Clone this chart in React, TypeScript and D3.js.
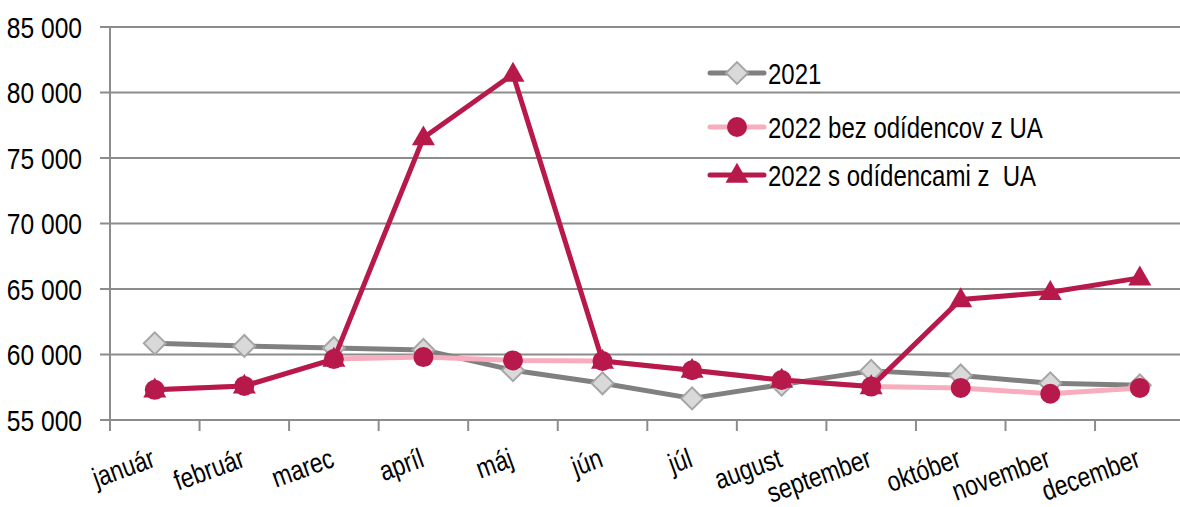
import * as d3 from "d3";

const months = [
  "január", "február", "marec", "apríl", "máj", "jún",
  "júl", "august", "september", "október", "november", "december",
];
const y2021 = [60850, 60650, 60500, 60350, 58800, 57800, 56650, 57700, 58750, 58400, 57800, 57650];
const y2022bez = [57300, 57600, 59650, 59800, 59550, 59500, 58800, 58050, 57550, 57450, 57000, 57450];
const y2022s = [57300, 57600, 59650, 76550, 81400, 59500, 58800, 58050, 57550, 64200, 64750, 65850];
const yTicks = [55000, 60000, 65000, 70000, 75000, 80000, 85000];
const seriesNames = ["2021", "2022 bez odídencov z UA", "2022 s odídencami z  UA"];

const W = 1180;
const H = 507;
// no narrow font installed, so Liberation Sans is squeezed horizontally
const FONT = "'Liberation Sans', Arial, sans-serif";
const SQ = 0.82;

const grey = "#808080";
const pink = "#f7adbe";
const crimson = "#b8194b";

function Marker({ kind, x, y }: { kind: string; x: number; y: number }) {
  if (kind === "diamond") {
    const p = d3.symbol(d3.symbolSquare, 240)();
    return (
      <path d={p!} transform={`translate(${x},${y}) rotate(45)`} fill="#d9d9d9" stroke="#a6a6a6" strokeWidth={2} />
    );
  }
  if (kind === "circle") {
    return <circle cx={x} cy={y} r={10} fill={crimson} />;
  }
  const p = d3.symbol(d3.symbolTriangle, 230)();
  return <path d={p!} transform={`translate(${x},${y + 1})`} fill={crimson} />;
}

export default function App() {
  const x = d3.scaleBand<string>().domain(months).range([110, 1184.6]);
  const y = d3.scaleLinear().domain([55000, 85000]).range([420, 27]);
  const cx = (m: string) => x(m)! + x.bandwidth() / 2;
  const fmt = (v: number) => d3.format(",")(v).replace(/,/g, " ");

  const line = d3
    .line<number>()
    .x((_, i) => cx(months[i]))
    .y((d) => y(d));

  const series = [
    { name: seriesNames[0], data: y2021, color: grey, marker: "diamond" },
    { name: seriesNames[1], data: y2022bez, color: pink, marker: "circle" },
    { name: seriesNames[2], data: y2022s, color: crimson, marker: "triangle" },
  ];

  const boundaries = months.map((m) => x(m)!).concat([110 + x.bandwidth() * 12]);
  const legendY = [73, 127, 175];

  return (
    <svg width={W} height={H} style={{ position: "absolute", left: 0, top: 0, background: "#fff" }} fontFamily={FONT}>
      {/* mriežka + popisy osi y */}
      {yTicks.map((t) => (
        <g key={t}>
          <line x1={100} x2={W} y1={y(t)} y2={y(t)} stroke="#8c8c8c" strokeWidth={2} />
          <text
            transform={`translate(82,${y(t)}) scale(${SQ},1)`}
            dy="0.36em"
            textAnchor="end"
            fontSize={30}
            fill="#000"
          >
            {fmt(t)}
          </text>
        </g>
      ))}
      {/* osi */}
      <line x1={110} x2={110} y1={y(85000)} y2={420} stroke="#8c8c8c" strokeWidth={2} />
      {boundaries.map((b, i) => (
        <line key={i} x1={b} x2={b} y1={420} y2={431} stroke="#8c8c8c" strokeWidth={2} />
      ))}
      {months.map((m) => (
        <text
          key={m}
          transform={`translate(${cx(m) + 2},${466}) rotate(-20) scale(${SQ},1)`}
          textAnchor="end"
          fontSize={28}
          fill="#000"
        >
          {m}
        </text>
      ))}
      {/* rady */}
      {series.map((s) => (
        <g key={s.name}>
          <path d={line(s.data)!} fill="none" stroke={s.color} strokeWidth={5} strokeLinejoin="round" />
          {s.data.map((v, i) => (
            <Marker key={i} kind={s.marker} x={cx(months[i])} y={y(v)} />
          ))}
        </g>
      ))}
      {/* legenda */}
      {series.map((s, i) => (
        <g key={s.name}>
          <line x1={710} x2={764} y1={legendY[i]} y2={legendY[i]} stroke={s.color} strokeWidth={5} strokeLinecap="round" />
          <Marker kind={s.marker} x={737} y={legendY[i]} />
          <text
            transform={`translate(768,${legendY[i]}) scale(0.8,1)`}
            dy="0.36em"
            fontSize={30}
            fill="#000"
            style={{ whiteSpace: "pre" }}
          >
            {s.name}
          </text>
        </g>
      ))}
    </svg>
  );
}
